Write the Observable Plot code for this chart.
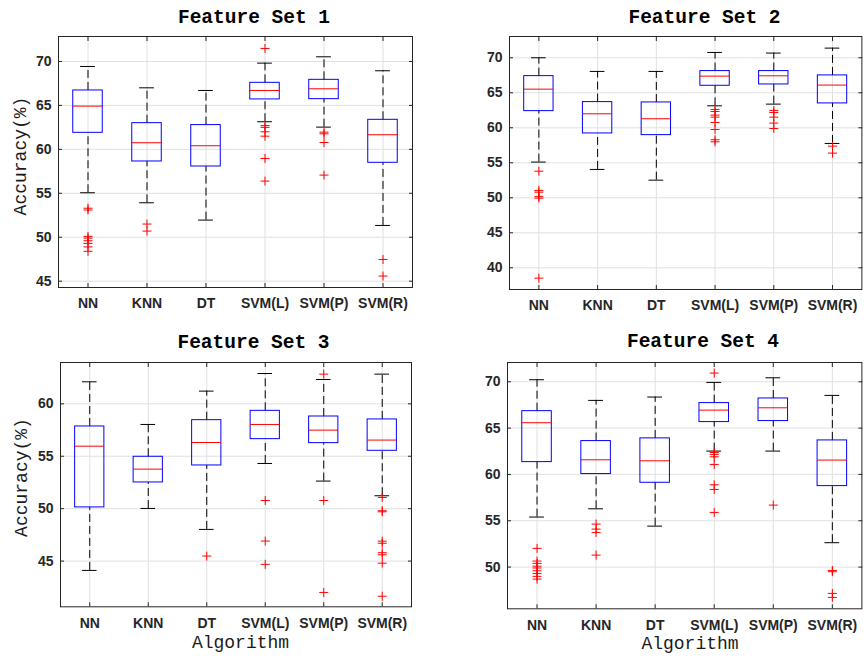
<!DOCTYPE html>
<html><head><meta charset="utf-8">
<script src="https://cdn.jsdelivr.net/npm/d3@7"></script>
<script src="https://cdn.jsdelivr.net/npm/@observablehq/plot@0.6"></script>
<style>
body{margin:0;background:#fff;}
#root{position:relative;width:868px;height:658px;overflow:hidden;background:#fff;}
#root > svg{position:absolute;}
</style></head><body><div id="root"></div>
<script>
const algorithms = ["NN", "KNN", "DT", "SVM(L)", "SVM(P)", "SVM(R)"];
const panelTitles = ["Feature Set 1", "Feature Set 2", "Feature Set 3", "Feature Set 4"];
const yLabel = "Accuracy(%)";
const xLabel = "Algorithm";

// each row: [lower whisker, Q1, median, Q3, upper whisker]
const fs1Box = [[55.06, 61.88, 64.92, 66.7, 69.43], [53.92, 58.62, 60.75, 62.98, 67.0], [51.95, 58.05, 60.41, 62.76, 66.7],
                [63.14, 65.68, 66.7, 67.57, 69.81], [62.53, 65.71, 66.89, 67.91, 70.53], [51.34, 58.47, 61.66, 63.36, 68.94]];
const fs1Out = [[53.3, 53.1, 50.1, 49.9, 49.6, 49.3, 48.9, 48.4], [51.5, 50.7], [],
                [71.48, 62.7, 62.5, 62.0, 61.5, 58.96, 56.39], [61.96, 61.77, 60.78, 57.07], [47.47, 45.58]];
const fs1Ticks = [45, 50, 55, 60, 65, 70];

const fs2Box = [[55.1, 62.38, 65.52, 67.38, 70.0], [54.05, 59.19, 62.0, 63.67, 68.05], [52.52, 58.95, 61.29, 63.62, 68.05],
                [63.14, 66.0, 67.38, 68.1, 70.76], [63.38, 66.19, 67.43, 68.1, 70.67], [57.76, 63.48, 66.1, 67.48, 71.38]];
const fs2Out = [[53.8, 51.05, 50.8, 50.2, 49.95, 38.52], [], [],
                [62.62, 62.33, 61.81, 61.52, 60.76, 59.76, 58.29, 58.0], [62.48, 62.19, 61.52, 60.67, 59.9], [57.38, 56.38]];
const fs2Ticks = [40, 45, 50, 55, 60, 65, 70];

const fs3Box = [[44.11, 50.12, 55.96, 57.84, 62.1], [50.02, 52.5, 53.77, 54.95, 58.03], [48.02, 54.12, 56.31, 58.44, 61.21],
                [54.31, 56.63, 58.03, 59.33, 62.89], [52.63, 56.25, 57.49, 58.79, 62.32], [51.23, 55.52, 56.54, 58.51, 62.83]];
const fs3Out = [[], [], [45.48], [50.78, 46.91, 44.69], [62.83, 50.78, 42.01],
                [51.07, 49.8, 49.7, 46.9, 46.7, 45.8, 45.6, 44.8, 41.65]];
const fs3Ticks = [45, 50, 55, 60];

const fs4Box = [[55.4, 61.33, 65.58, 66.83, 70.22], [56.29, 60.04, 61.58, 63.6, 67.99], [54.42, 59.1, 61.47, 63.89, 68.35],
                [62.52, 65.65, 66.94, 67.7, 69.93], [62.52, 65.76, 67.19, 68.2, 70.43], [52.63, 58.74, 61.55, 63.67, 68.53]];
const fs4Out = [[52.02, 50.65, 50.4, 50.1, 49.9, 49.6, 49.3, 49.0, 48.7], [54.64, 54.1, 53.74, 51.29], [],
                [70.94, 62.37, 62.16, 61.9, 61.08, 58.88, 58.38, 55.9], [56.69], [49.64, 49.5, 47.16, 46.73]];
const fs4Ticks = [50, 55, 60, 65, 70];

const root = document.getElementById("root");
const plusSymbol = {
  draw(ctx, size) {
    const r = Math.sqrt(size / Math.PI);
    ctx.moveTo(-r, 0); ctx.lineTo(r, 0);
    ctx.moveTo(0, -r); ctx.lineTo(0, r);
  }
};

function makePanel(box, out, yDomain, yTicks, fx, fy, fw, fh) {
  const mL = 52, mR = 6, mT = 6, mB = 34;
  const rows = box.map((s, i) => ({i: i + 1, lo: s[0], q1: s[1], med: s[2], q3: s[3], hi: s[4]}));
  const pts = out.flatMap((vals, i) => vals.map(v => ({i: i + 1, v})));
  const xt = algorithms.map((_, i) => i + 1);
  const half = 0.25, cap = 0.125;
  const chart = Plot.plot({
    width: fw + mL + mR, height: fh + mT + mB,
    marginLeft: mL, marginRight: mR, marginTop: mT, marginBottom: mB,
    style: {fontFamily: "'Liberation Sans', Arial, sans-serif", fontSize: "14px", fontWeight: "bold", color: "#262626", background: "white", overflow: "visible"},
    x: {type: "linear", domain: [0.5, algorithms.length + 0.5]},
    y: {domain: yDomain},
    marks: [
      Plot.gridX(xt, {stroke: "#e0e0e0", strokeOpacity: 1}),
      Plot.gridY(yTicks, {stroke: "#e0e0e0", strokeOpacity: 1}),
      Plot.ruleX(rows, {x: "i", y1: "q3", y2: "hi", stroke: "black", strokeDasharray: "8,4"}),
      Plot.ruleX(rows, {x: "i", y1: "lo", y2: "q1", stroke: "black", strokeDasharray: "8,4"}),
      Plot.ruleY(rows, {y: "hi", x1: d => d.i - cap, x2: d => d.i + cap, stroke: "black"}),
      Plot.ruleY(rows, {y: "lo", x1: d => d.i - cap, x2: d => d.i + cap, stroke: "black"}),
      Plot.rect(rows, {x1: d => d.i - half, x2: d => d.i + half, y1: "q1", y2: "q3", stroke: "#0000ff", fill: "none"}),
      Plot.ruleY(rows, {y: "med", x1: d => d.i - half, x2: d => d.i + half, stroke: "#ff0000"}),
      Plot.dot(pts, {x: "i", y: "v", symbol: plusSymbol, r: 4.5, stroke: "#ff0000", fill: "none", strokeWidth: 1}),
      Plot.frame({stroke: "#262626"}),
      Plot.axisX(xt, {anchor: "bottom", tickSize: 0, tickPadding: 11, tickFormat: d => algorithms[d - 1], label: null}),
      Plot.axisY(yTicks, {anchor: "left", tickSize: 0, tickPadding: 7, label: null}),
      Plot.axisX(xt, {anchor: "bottom", tickSize: -4, tickFormat: () => "", label: null, stroke: "#262626"}),
      Plot.axisX(xt, {anchor: "top", tickSize: -4, tickFormat: () => "", label: null, stroke: "#262626"}),
      Plot.axisY(yTicks, {anchor: "left", tickSize: -4, tickFormat: () => "", label: null, stroke: "#262626"}),
      Plot.axisY(yTicks, {anchor: "right", tickSize: -4, tickFormat: () => "", label: null, stroke: "#262626"})
    ]
  });
  chart.style.left = (fx - mL) + "px";
  chart.style.top = (fy - mT) + "px";
  root.appendChild(chart);
}

makePanel(fs1Box, fs1Out, [44.28, 72.84], fs1Ticks, 58, 36, 354, 251);
makePanel(fs2Box, fs2Out, [36.9, 73.04], fs2Ticks, 509.3, 36, 352.4, 253);
makePanel(fs3Box, fs3Out, [40.64, 63.94], fs3Ticks, 59.7, 361.7, 351, 244.3);
makePanel(fs4Box, fs4Out, [45.5, 72.08], fs4Ticks, 507.3, 361.7, 354.4, 246.3);

// overlay text: titles and axis labels
const ns = "http://www.w3.org/2000/svg";
const ov = document.createElementNS(ns, "svg");
ov.setAttribute("width", 868); ov.setAttribute("height", 658);
ov.style.left = "0px"; ov.style.top = "0px"; ov.style.pointerEvents = "none";
function addText(str, x, y, opts) {
  const t = document.createElementNS(ns, "text");
  t.textContent = str;
  t.setAttribute("x", x); t.setAttribute("y", y);
  t.setAttribute("text-anchor", "middle");
  t.setAttribute("font-family", "'Liberation Mono', 'Courier New', monospace");
  t.setAttribute("font-size", opts.size);
  t.setAttribute("font-weight", opts.weight || "normal");
  t.setAttribute("fill", opts.fill || "#000");
  if (opts.rotate) t.setAttribute("transform", `rotate(-90 ${x} ${y})`);
  ov.appendChild(t);
}
const titlePos = [[254, 22.7], [704.5, 22.7], [253.5, 347.5], [703, 347.3]];
panelTitles.forEach((s, k) => addText(s, titlePos[k][0], titlePos[k][1], {size: 19.5, weight: "bold"}));
addText(yLabel, 26, 156, {size: 18, fill: "#1a1a1a", rotate: true});
addText(yLabel, 27, 477.5, {size: 18, fill: "#1a1a1a", rotate: true});
addText(xLabel, 240.5, 648, {size: 18, fill: "#1a1a1a"});
addText(xLabel, 690, 649, {size: 18, fill: "#1a1a1a"});
root.appendChild(ov);
</script>
</body></html>
